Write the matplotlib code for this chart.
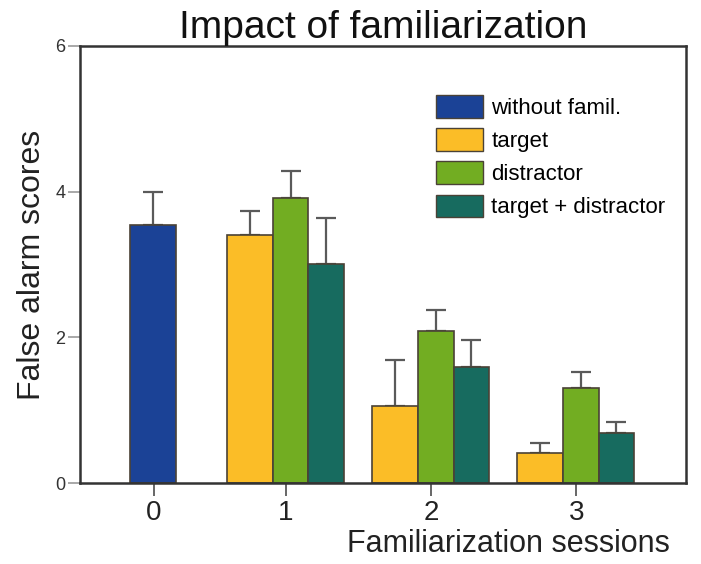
import matplotlib.pyplot as plt
from matplotlib.patches import Patch

plt.rcParams['font.family'] = ['Liberation Sans', 'DejaVu Sans']

# data
sessions = ['0', '1', '2', '3']
series = ['without famil.', 'target', 'distractor', 'target + distractor']
without_famil = [3.54]
without_famil_err = [0.45]
target = [3.41, 1.06, 0.41]
target_err = [0.32, 0.63, 0.14]
distractor = [3.91, 2.09, 1.31]
distractor_err = [0.37, 0.29, 0.21]
target_distractor = [3.00, 1.59, 0.68]
target_distractor_err = [0.64, 0.37, 0.16]

colors = ['#1b4296', '#fbbd27', '#72ad22', '#176b5f']
edge = '#4a4236'
errc = '#5a5a5a'

# tick positions (session 0 sits a bit closer to session 1 in the original)
tick_pos = [0.0, 0.91, 1.91, 2.91]

fig = plt.figure(figsize=(7.01, 5.64), dpi=100)
ax = fig.add_axes([0.114, 0.1436, 0.865, 0.775])

ekw = dict(ecolor=errc, elinewidth=1.6, capsize=7, capthick=1.6)

ax.bar(tick_pos[0] - 0.166, without_famil, width=0.318, align='edge', color=colors[0],
       edgecolor=edge, linewidth=1.2, zorder=2)
ax.errorbar([tick_pos[0] - 0.166 + 0.159], without_famil,
            yerr=[[0] * len(without_famil), without_famil_err], fmt='none', zorder=1, **ekw)

groups = [(target, target_err, -0.405, 0.315, colors[1]),
          (distractor, distractor_err, -0.09, 0.245, colors[2]),
          (target_distractor, target_distractor_err, 0.155, 0.245, colors[3])]
for vals, errs, off, w, c in groups:
    xs = [p + off for p in tick_pos[1:]]
    ax.bar(xs, vals, width=w, align='edge', color=c, edgecolor=edge, linewidth=1.2, zorder=2)
    ax.errorbar([x + w / 2 for x in xs], vals, yerr=[[0] * len(vals), errs],
                fmt='none', zorder=1, **ekw)

ax.set_xlim(-0.51, 3.669)
ax.set_ylim(0, 6)
ax.set_yticks([0, 2, 4, 6])
ax.set_xticks(tick_pos)
ax.set_xticklabels(sessions, fontsize=20, color='#222222')
ax.tick_params(axis='y', labelsize=13, length=8.5, width=1.2, color='#999999', labelcolor='#333333', pad=2)
ax.tick_params(axis='x', length=9.5, width=1.4, color='#666666', pad=3)
for s in ax.spines.values():
    s.set_linewidth(1.8)
    s.set_color('#333333')

ax.set_title('Impact of familiarization', fontsize=28, pad=5, color='#111111')
ax.set_ylabel('False alarm scores', fontsize=23, color='#222222', labelpad=6)
fig.text(0.725, 0.036, 'Familiarization sessions', fontsize=22, ha='center', va='center', color='#222222')

handles = [Patch(facecolor=c, edgecolor=edge, linewidth=1.0) for c in colors]
ax.legend(handles, series, loc='upper left', bbox_to_anchor=(0.587, 0.888), frameon=False,
          fontsize=16, handlelength=2.1, handleheight=1.2, labelspacing=0.42,
          handletextpad=0.4, borderpad=0, borderaxespad=0)

fig.savefig('out.png', dpi=100)
